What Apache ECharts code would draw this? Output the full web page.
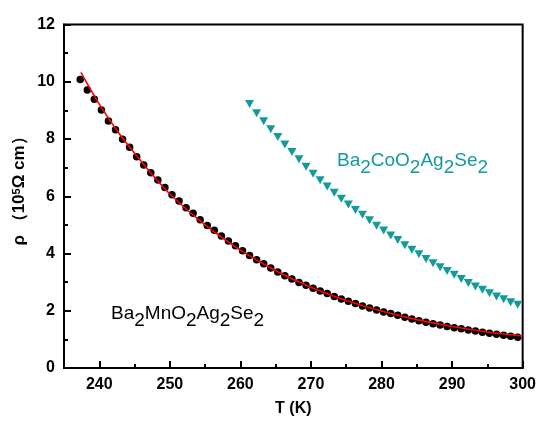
<!DOCTYPE html>
<html><head><meta charset="utf-8">
<script src="https://cdn.jsdelivr.net/npm/echarts@6/dist/echarts.min.js"></script>
<style>html,body{margin:0;padding:0;background:#fff}#c{width:539px;height:422px}</style>
</head><body><div id="c"></div>
<script>
// Ba2MnO2Ag2Se2 measured points (T in K, rho in 10^5 Ohm cm)
const mnT = [237.3,238.3,239.3,240.3,241.3,242.3,243.3,244.3,245.3,246.3,247.3,248.3,249.3,250.3,251.3,252.3,253.3,254.3,255.3,256.3,257.3,258.3,259.3,260.3,261.3,262.3,263.3,264.3,265.3,266.3,267.3,268.3,269.3,270.3,271.3,272.3,273.3,274.3,275.3,276.3,277.3,278.3,279.3,280.3,281.3,282.3,283.3,284.3,285.3,286.3,287.3,288.3,289.3,290.3,291.3,292.3,293.3,294.3,295.3,296.3,297.3,298.3,299.3];
const mnRho = [10.08,9.71,9.39,9.01,8.63,8.32,7.99,7.71,7.38,7.09,6.82,6.57,6.31,6.05,5.83,5.60,5.41,5.18,4.98,4.81,4.61,4.44,4.27,4.10,3.93,3.78,3.64,3.49,3.35,3.22,3.11,2.99,2.89,2.79,2.69,2.60,2.50,2.41,2.33,2.25,2.17,2.10,2.03,1.96,1.90,1.84,1.77,1.71,1.65,1.60,1.55,1.50,1.45,1.41,1.37,1.33,1.29,1.25,1.21,1.18,1.14,1.11,1.07];
// Fit curve for Ba2MnO2Ag2Se2
const fitT = [237.4,240,242.5,245,247.5,250,255,260,265,270,275,280,285,290,295,300];
const fitRho = [10.33,9.22,8.30,7.50,6.76,6.08,5.00,4.12,3.40,2.82,2.36,1.99,1.69,1.45,1.26,1.12];
// Ba2CoO2Ag2Se2 measured points
const coT = [261.3,262.3,263.3,264.3,265.3,266.3,267.3,268.3,269.3,270.3,271.3,272.3,273.3,274.3,275.3,276.3,277.3,278.3,279.3,280.3,281.3,282.3,283.3,284.3,285.3,286.3,287.3,288.3,289.3,290.3,291.3,292.3,293.3,294.3,295.3,296.3,297.3,298.3,299.3];
const coRho = [9.22,8.90,8.62,8.34,8.07,7.81,7.55,7.29,7.03,6.79,6.56,6.34,6.12,5.91,5.71,5.52,5.35,5.16,4.97,4.80,4.63,4.47,4.29,4.13,3.97,3.81,3.66,3.52,3.39,3.26,3.11,2.97,2.85,2.73,2.61,2.50,2.40,2.30,2.21];
// Tick labels
const xTicks = [240,250,260,270,280,290,300];
const xMinorTicks = [245,255,265,275,285,295];
const yTicks = [0,2,4,6,8,10,12];

const pair = (a,b) => a.map((v,i)=>[v,b[i]]);
const FONT = 'Arial, "Liberation Sans", sans-serif';
const teal = '#149a9a';

function formula(parts, color, size, drop) {
  return {
    text: parts.map(p => /^\d$/.test(p) ? '{s|'+p+'}' : '{n|'+p+'}').join(''),
    rich:{
      n:{fontFamily:FONT,fontSize:size,fill:color,verticalAlign:'top',lineHeight:size+2},
      s:{fontFamily:FONT,fontSize:size,fill:color,verticalAlign:'top',lineHeight:size+2,padding:[drop,0,0,0]}
    }
  };
}

const chart = echarts.init(document.getElementById('c'), null, {renderer:'canvas'});
chart.setOption({
  animation:false,
  backgroundColor:'#fff',
  grid:{left:64,right:14,top:24.5,bottom:54,show:true,borderColor:'#000',borderWidth:2,backgroundColor:'transparent'},
  xAxis:[{
    type:'value',min:235,max:300,position:'bottom',
    axisLine:{show:true,onZero:false,lineStyle:{color:'#000',width:2}},
    axisTick:{show:true,inside:true,length:7,lineStyle:{color:'#000',width:2},customValues:xTicks},
    axisLabel:{show:true,customValues:xTicks,color:'#000',fontFamily:FONT,fontWeight:'bold',fontSize:16,margin:9},
    splitLine:{show:false},
    name:'T (K)',nameLocation:'middle',nameGap:33,
    nameTextStyle:{color:'#000',fontFamily:FONT,fontWeight:'bold',fontSize:16}
  },{
    type:'value',min:235,max:300,position:'bottom',
    axisLine:{show:false},
    axisTick:{show:true,inside:true,length:4,lineStyle:{color:'#000',width:2},customValues:xMinorTicks},
    axisLabel:{show:false},splitLine:{show:false}
  }],
  yAxis:{
    type:'value',min:0,max:12,interval:2,
    axisLine:{show:true,lineStyle:{color:'#000',width:2}},
    axisTick:{show:true,inside:true,length:7,lineStyle:{color:'#000',width:2}},
    minorTick:{show:true,splitNumber:2,length:4,lineStyle:{color:'#000',width:2}},
    axisLabel:{color:'#000',fontFamily:FONT,fontWeight:'bold',fontSize:16,margin:9,
      formatter:(v)=> yTicks.indexOf(v)>=0 ? String(v) : ''},
    splitLine:{show:false}
  },
  series:[
    {type:'scatter',name:'Mn',data:pair(mnT,mnRho),symbol:'circle',symbolSize:7.5,
     itemStyle:{color:'#000',opacity:1},z:2},
    {type:'scatter',name:'Co',data:pair(coT,coRho),symbol:'triangle',symbolRotate:180,symbolSize:[9,8],
     itemStyle:{color:teal,opacity:1},z:2},
    {type:'line',name:'fit',data:pair(fitT,fitRho),smooth:0.4,showSymbol:false,symbol:'none',
     lineStyle:{color:'#ff0000',width:1.6},z:3}
  ],
  graphic:[
    {type:'text',x:21,y:187,rotation:Math.PI/2,z:10,style:{
      text:'{n|ρ }{n|（10}{s|5}{n|Ω cm）}',
      align:'center',verticalAlign:'middle',
      rich:{
        n:{fontFamily:FONT,fontWeight:'bold',fontSize:17,fill:'#000',verticalAlign:'top',lineHeight:20},
        s:{fontFamily:FONT,fontWeight:'bold',fontSize:11,fill:'#000',verticalAlign:'top',lineHeight:20}
      }}},
    {type:'text',left:111,top:304,z:10,style:formula(['Ba','2','MnO','2','Ag','2','Se','2'],'#000',19,7)},
    {type:'text',left:337,top:151,z:10,style:formula(['Ba','2','CoO','2','Ag','2','Se','2'],teal,19,7)}
  ]
});
</script>
</body></html>
